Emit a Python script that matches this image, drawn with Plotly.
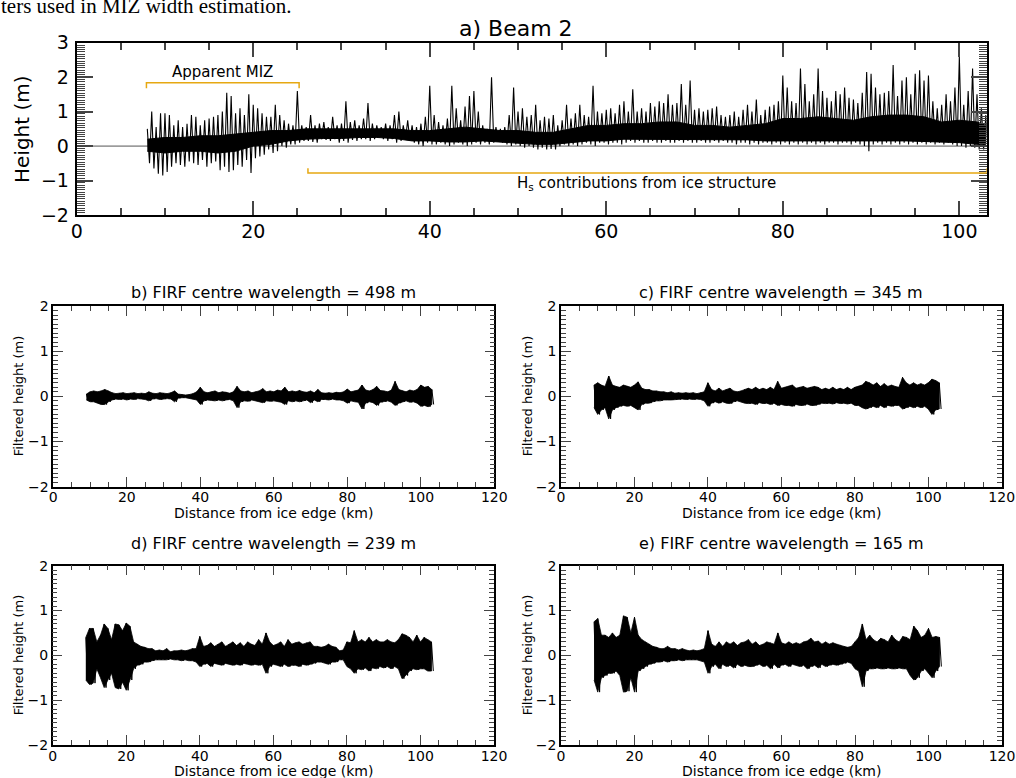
import plotly.graph_objects as go

# ---------------- data ----------------
# Panel a: raw height, Beam 2, max / min every 0.5 km from 8.0 km to 103.0 km
top_start_km = 8.0
top_step_km = 0.5
top_hi = [
    0.5, 1.0, 0.55, 0.95, 0.95, 0.9, 0.6, 0.75, 0.55, 0.65,
    0.9, 0.85, 0.6, 0.75, 0.8, 0.85, 0.9, 1.0, 1.55, 1.45,
    0.95, 1.1, 0.9, 1.5, 1.2, 1.1, 0.95, 0.85, 0.85, 1.2,
    0.9, 0.75, 0.65, 0.6, 1.6, 0.6, 0.55, 0.9, 0.6, 0.65,
    0.7, 0.55, 0.85, 0.6, 0.65, 1.3, 0.7, 0.75, 0.6, 0.8,
    1.25, 0.65, 0.6, 0.55, 0.65, 0.6, 0.9, 1.0, 0.6, 0.75,
    0.6, 0.55, 0.65, 0.85, 1.75, 0.9, 0.7, 0.6, 0.8, 1.75,
    1.1, 0.75, 1.15, 1.45, 1.6, 1.0, 0.6, 0.5, 2.0, 0.55,
    0.5, 0.55, 0.9, 1.7, 1.0, 1.1, 0.85, 0.9, 1.2, 0.75,
    0.85, 0.8, 0.9, 0.6, 0.75, 1.2, 0.8, 0.95, 1.2, 0.9,
    0.85, 1.75, 1.0, 0.95, 1.05, 1.1, 0.95, 1.2, 1.3, 1.0,
    1.65, 1.0, 1.1, 1.0, 1.25, 1.15, 1.3, 1.25, 1.5, 1.2,
    1.25, 1.8, 1.2, 1.9, 1.05, 1.1, 1.0, 1.05, 1.1, 1.15,
    0.9, 0.85, 0.9, 1.0, 0.85, 1.05, 1.2, 1.0, 1.35, 0.9,
    1.05, 1.15, 1.2, 1.3, 2.05, 1.7, 1.3, 1.25, 2.25, 1.8,
    1.3, 1.5, 2.25, 1.6, 1.4, 1.3, 1.6, 1.5, 1.7, 1.4,
    1.35, 1.25, 1.55, 2.15, 2.1, 1.7, 1.5, 1.55, 1.6, 2.35,
    1.45, 1.9, 2.0, 1.5, 2.1, 2.2, 1.9, 2.05, 1.3, 1.1,
    1.2, 1.5, 1.3, 1.7, 2.6, 1.2, 1.6, 2.25, 1.5, 1.1,
    0.9,
]
top_lo = [
    -0.5, -0.65, -0.8, -0.85, -0.75, -0.6, -0.5, -0.55, -0.6, -0.45,
    -0.5, -0.55, -0.4, -0.6, -0.5, -0.45, -0.7, -0.6, -0.75, -0.7,
    -0.55, -0.6, -0.4, -0.78, -0.35, -0.3, -0.25, -0.1, -0.2, -0.15,
    0.0, -0.05, 0.05, 0.05, 0.1, 0.15, 0.15, 0.12, 0.1, 0.2,
    0.18, 0.15, 0.2, 0.1, 0.15, 0.1, 0.18, 0.15, 0.2, 0.2,
    0.15, 0.2, 0.25, 0.2, 0.15, 0.2, 0.1, 0.15, 0.2, 0.15,
    0.1, 0.05, 0.0, 0.1, 0.05, 0.05, 0.1, 0.05, 0.0, 0.05,
    0.1, 0.05, 0.0, 0.05, 0.1, 0.05, 0.1, 0.05, 0.1, 0.15,
    0.1, 0.05, 0.0, 0.05, 0.0, -0.05, 0.0, -0.05, -0.1, -0.05,
    -0.1, -0.08, -0.1, 0.0, 0.05, 0.0, 0.05, 0.0, 0.05, 0.1,
    0.05, 0.0, 0.1, 0.1, 0.05, 0.1, 0.1, 0.05, 0.1, 0.15,
    0.1, 0.15, 0.1, 0.1, 0.15, 0.1, 0.1, 0.15, 0.1, 0.1,
    0.15, 0.1, 0.15, 0.1, 0.1, 0.15, 0.1, 0.1, 0.15, 0.1,
    0.15, 0.1, 0.1, 0.05, 0.1, 0.1, 0.05, 0.1, 0.05, 0.1,
    0.1, 0.05, 0.1, 0.05, 0.1, 0.05, 0.1, 0.05, 0.1, 0.05,
    0.1, 0.05, 0.1, 0.05, 0.1, 0.1, 0.05, 0.1, 0.1, 0.05,
    0.1, 0.05, 0.0, -0.15, 0.05, 0.1, 0.05, 0.1, 0.05, 0.1,
    0.05, 0.1, 0.05, 0.1, 0.05, 0.1, 0.05, 0.1, 0.05, 0.1,
    0.05, 0.1, 0.05, 0.0, 0.0, -0.05, 0.0, -0.05, -0.1, -0.1,
    -0.05,
]
# Panel a: dense (solid black) core of the trace, read every 2 km
core_km = [8, 10, 12, 14, 16, 18, 20, 22, 24, 26, 28, 30, 32, 34, 36, 38, 40,
           42, 44, 46, 48, 50, 52, 54, 56, 58, 60, 62, 64, 66, 68, 70, 72, 74,
           76, 78, 80, 82, 84, 86, 88, 90, 92, 94, 96, 98, 100, 102, 103]
core_top = [0.2, 0.25, 0.25, 0.3, 0.3, 0.35, 0.4, 0.45, 0.45, 0.5, 0.5, 0.5,
            0.5, 0.5, 0.5, 0.45, 0.45, 0.5, 0.55, 0.5, 0.45, 0.45, 0.4, 0.4,
            0.5, 0.6, 0.6, 0.65, 0.65, 0.7, 0.7, 0.6, 0.6, 0.55, 0.6, 0.65,
            0.8, 0.8, 0.85, 0.8, 0.75, 0.85, 0.9, 0.9, 0.85, 0.7, 0.75, 0.7, 0.6]
core_bot = [-0.15, -0.2, -0.15, -0.15, -0.2, -0.15, 0.0, 0.05, 0.15, 0.2, 0.22,
            0.22, 0.25, 0.25, 0.22, 0.15, 0.15, 0.12, 0.12, 0.15, 0.12, 0.08,
            0.05, 0.05, 0.1, 0.15, 0.15, 0.2, 0.2, 0.2, 0.2, 0.2, 0.2, 0.18,
            0.18, 0.15, 0.15, 0.15, 0.15, 0.15, 0.15, 0.15, 0.15, 0.15, 0.15,
            0.12, 0.1, 0.05, 0.05]

# Panels b-e: FIRF filtered height, max / min per 1 km, 9 km .. 103 km
filt_start_km = 9
filt_step_km = 1.0
b_hi = [
    0.05, 0.1, 0.12, 0.1, 0.12, 0.15, 0.12, 0.08, 0.06, 0.07,
    0.08, 0.06, 0.07, 0.08, 0.06, 0.07, 0.06, 0.1, 0.07, 0.06,
    0.08, 0.07, 0.06, 0.08, 0.12, 0.05, 0.04, 0.03, 0.04, 0.06,
    0.1, 0.2, 0.1, 0.08, 0.1, 0.12, 0.08, 0.1, 0.09, 0.07,
    0.1, 0.22, 0.12, 0.1, 0.12, 0.08, 0.1, 0.12, 0.17, 0.1,
    0.12, 0.1, 0.14, 0.12, 0.2, 0.1, 0.12, 0.1, 0.13, 0.1,
    0.09, 0.12, 0.08, 0.15, 0.08, 0.07, 0.08, 0.07, 0.09, 0.08,
    0.1, 0.16, 0.1, 0.12, 0.14, 0.25, 0.14, 0.12, 0.15, 0.22,
    0.13, 0.12, 0.1, 0.14, 0.33, 0.15, 0.12, 0.1, 0.14, 0.12,
    0.15, 0.25, 0.2, 0.22, 0.15,
]
b_lo = [
    -0.08, -0.12, -0.12, -0.15, -0.18, -0.18, -0.12, -0.08, -0.06, -0.07,
    -0.06, -0.08, -0.06, -0.07, -0.05, -0.06, -0.07, -0.1, -0.06, -0.05,
    -0.07, -0.06, -0.05, -0.06, -0.12, -0.04, -0.03, -0.03, -0.04, -0.06,
    -0.08, -0.18, -0.1, -0.08, -0.09, -0.1, -0.08, -0.1, -0.08, -0.07,
    -0.1, -0.25, -0.12, -0.1, -0.11, -0.08, -0.1, -0.12, -0.14, -0.1,
    -0.11, -0.1, -0.12, -0.13, -0.18, -0.1, -0.12, -0.1, -0.12, -0.1,
    -0.08, -0.14, -0.08, -0.12, -0.07, -0.07, -0.08, -0.06, -0.08, -0.08,
    -0.1, -0.15, -0.1, -0.12, -0.13, -0.28, -0.15, -0.12, -0.14, -0.2,
    -0.13, -0.12, -0.1, -0.13, -0.2, -0.15, -0.12, -0.1, -0.13, -0.12,
    -0.15, -0.22, -0.2, -0.23, -0.18,
]
c_hi = [
    0.25, 0.3, 0.25, 0.22, 0.45, 0.25, 0.22, 0.2, 0.25, 0.22,
    0.2, 0.25, 0.32, 0.18, 0.15, 0.15, 0.12, 0.12, 0.1, 0.1,
    0.08, 0.1, 0.07, 0.08, 0.07, 0.08, 0.07, 0.08, 0.06, 0.08,
    0.1, 0.3, 0.15, 0.12, 0.18, 0.12, 0.15, 0.18, 0.12, 0.1,
    0.12, 0.15, 0.18, 0.15, 0.2, 0.15, 0.18, 0.15, 0.2, 0.15,
    0.33, 0.18, 0.2, 0.22, 0.25, 0.18, 0.2, 0.22, 0.18, 0.2,
    0.22, 0.2, 0.15, 0.18, 0.15, 0.2, 0.15, 0.18, 0.15, 0.2,
    0.15, 0.2, 0.22, 0.25, 0.33, 0.3, 0.25, 0.3, 0.22, 0.28,
    0.22, 0.25, 0.22, 0.2, 0.42, 0.3, 0.25, 0.3, 0.25, 0.28,
    0.25, 0.3, 0.38, 0.35, 0.3,
]
c_lo = [
    -0.25, -0.4, -0.3, -0.25, -0.5, -0.3, -0.25, -0.22, -0.2, -0.22,
    -0.2, -0.25, -0.3, -0.18, -0.15, -0.15, -0.12, -0.1, -0.1, -0.08,
    -0.08, -0.08, -0.07, -0.07, -0.06, -0.07, -0.06, -0.07, -0.06, -0.07,
    -0.1, -0.22, -0.15, -0.12, -0.15, -0.12, -0.15, -0.16, -0.12, -0.1,
    -0.12, -0.15, -0.16, -0.15, -0.18, -0.14, -0.16, -0.15, -0.18, -0.15,
    -0.2, -0.18, -0.2, -0.2, -0.22, -0.18, -0.2, -0.2, -0.17, -0.2,
    -0.2, -0.18, -0.15, -0.16, -0.15, -0.17, -0.14, -0.16, -0.15, -0.17,
    -0.15, -0.2, -0.2, -0.25, -0.28, -0.25, -0.22, -0.25, -0.2, -0.25,
    -0.2, -0.22, -0.2, -0.2, -0.28, -0.25, -0.22, -0.25, -0.22, -0.25,
    -0.22, -0.28, -0.4, -0.3, -0.28,
]
d_hi = [
    0.4, 0.6, 0.6, 0.3, 0.45, 0.7, 0.6, 0.35, 0.7, 0.68,
    0.55, 0.72, 0.65, 0.3, 0.25, 0.2, 0.18, 0.15, 0.15, 0.1,
    0.12, 0.1, 0.15, 0.08, 0.1, 0.1, 0.12, 0.1, 0.12, 0.15,
    0.15, 0.42, 0.2, 0.22, 0.28, 0.2, 0.25, 0.3, 0.2, 0.25,
    0.3, 0.22, 0.28, 0.2, 0.3, 0.25, 0.22, 0.35, 0.25, 0.5,
    0.3, 0.22, 0.25, 0.3, 0.2, 0.35, 0.25, 0.28, 0.3, 0.25,
    0.28, 0.3, 0.2, 0.2, 0.18, 0.2, 0.25, 0.2, 0.18, 0.1,
    0.12, 0.3, 0.28, 0.55, 0.3, 0.35, 0.3, 0.4, 0.3, 0.35,
    0.3, 0.3, 0.35, 0.3, 0.28, 0.35, 0.48, 0.45, 0.4, 0.3,
    0.45, 0.3, 0.4, 0.35, 0.3,
]
d_lo = [
    -0.55, -0.65, -0.62, -0.3, -0.5, -0.72, -0.55, -0.4, -0.72, -0.75,
    -0.6, -0.78, -0.55, -0.3, -0.22, -0.2, -0.15, -0.15, -0.12, -0.1,
    -0.1, -0.1, -0.1, -0.08, -0.1, -0.1, -0.12, -0.1, -0.12, -0.12,
    -0.15, -0.25, -0.2, -0.18, -0.25, -0.18, -0.2, -0.22, -0.18, -0.2,
    -0.22, -0.2, -0.22, -0.18, -0.2, -0.22, -0.2, -0.22, -0.2, -0.4,
    -0.25, -0.2, -0.22, -0.25, -0.2, -0.25, -0.22, -0.22, -0.25, -0.2,
    -0.22, -0.2, -0.18, -0.15, -0.15, -0.18, -0.2, -0.15, -0.15, -0.1,
    -0.1, -0.25, -0.3, -0.4, -0.3, -0.32, -0.28, -0.35, -0.28, -0.3,
    -0.25, -0.28, -0.25, -0.3, -0.25, -0.3, -0.52, -0.45, -0.35, -0.3,
    -0.32, -0.3, -0.3, -0.35, -0.35,
]
e_hi = [
    0.75, 0.82, 0.45, 0.45, 0.4, 0.5, 0.4, 0.45, 0.88, 0.85,
    0.5, 0.85, 0.45, 0.35, 0.3, 0.25, 0.2, 0.18, 0.15, 0.15,
    0.2, 0.15, 0.15, 0.12, 0.15, 0.12, 0.1, 0.12, 0.1, 0.12,
    0.15, 0.55, 0.25, 0.2, 0.3, 0.2, 0.3, 0.25, 0.3, 0.22,
    0.28, 0.3, 0.35, 0.25, 0.3, 0.22, 0.25, 0.3, 0.28, 0.25,
    0.5, 0.28, 0.25, 0.3, 0.25, 0.28, 0.25, 0.3, 0.32, 0.38,
    0.3, 0.32, 0.25, 0.3, 0.25, 0.28, 0.25, 0.22, 0.2, 0.18,
    0.2, 0.3, 0.4, 0.7, 0.35, 0.45, 0.35, 0.3, 0.38, 0.35,
    0.3, 0.45, 0.35, 0.3, 0.42, 0.4, 0.35, 0.65, 0.55, 0.4,
    0.45, 0.6, 0.4, 0.42, 0.4,
]
e_lo = [
    -0.55, -0.82, -0.5, -0.45, -0.4, -0.4, -0.35, -0.45, -0.82, -0.8,
    -0.5, -0.82, -0.35, -0.3, -0.25, -0.2, -0.18, -0.15, -0.15, -0.12,
    -0.15, -0.12, -0.12, -0.1, -0.12, -0.1, -0.1, -0.1, -0.1, -0.12,
    -0.15, -0.4, -0.25, -0.2, -0.3, -0.2, -0.25, -0.22, -0.28, -0.2,
    -0.25, -0.22, -0.25, -0.25, -0.22, -0.2, -0.25, -0.22, -0.3, -0.2,
    -0.28, -0.22, -0.2, -0.25, -0.2, -0.22, -0.25, -0.22, -0.3, -0.25,
    -0.22, -0.28, -0.2, -0.25, -0.22, -0.2, -0.22, -0.2, -0.18, -0.15,
    -0.18, -0.3, -0.35, -0.7, -0.35, -0.3, -0.3, -0.28, -0.3, -0.3,
    -0.28, -0.3, -0.3, -0.28, -0.3, -0.3, -0.45, -0.55, -0.5, -0.35,
    -0.3, -0.4, -0.5, -0.35, -0.25,
]

panel_titles = [
    "b) FIRF centre wavelength = 498 m",
    "c) FIRF centre wavelength = 345 m",
    "d) FIRF centre wavelength = 239 m",
    "e) FIRF centre wavelength = 165 m",
]
top_title = "a) Beam 2"
header_text = "ters used in MIZ width estimation."

# annotation brackets (km, m)
miz_x = [7.9, 25.2]
miz_y = [1.84, 1.68]
ice_x = [26.2, 103.1]
ice_y = [-0.78, -0.64]

# ---------------- layout helpers ----------------
W, H = 1016, 778
FONT = "DejaVu Sans"
GOLD = "#E6A812"


def px_x(p):
    return p / W


def px_y(p):
    return 1 - p / H


def zigzag(start, step, hi, lo):
    xs, ys = [], []
    for i, (h, l) in enumerate(zip(hi, lo)):
        d = start + i * step
        xs += [d, d + step / 2]
        ys += [h, l]
    return xs, ys


def band(start, step, hi, lo):
    xs = [start + i * step for i in range(len(hi))]
    return xs + xs[::-1], list(hi) + list(lo)[::-1]


fig = go.Figure()

# panel a: solid core + zigzag trace
fig.add_trace(go.Scatter(x=core_km + core_km[::-1], y=core_top + core_bot[::-1],
                         mode="lines", fill="toself", fillcolor="black",
                         line=dict(color="black", width=1), xaxis="x", yaxis="y",
                         showlegend=False, hoverinfo="skip"))
xs, ys = zigzag(top_start_km, top_step_km, top_hi, top_lo)
fig.add_trace(go.Scatter(x=xs, y=ys, mode="lines", xaxis="x", yaxis="y",
                         line=dict(color="black", width=1.1), showlegend=False,
                         hoverinfo="skip"))

filt = [(b_hi, b_lo), (c_hi, c_lo), (d_hi, d_lo), (e_hi, e_lo)]
for k, (hi, lo) in enumerate(filt):
    bx, by = band(filt_start_km, filt_step_km, hi, lo)
    fig.add_trace(go.Scatter(x=bx, y=by, mode="lines", fill="toself",
                             fillcolor="black", line=dict(color="black", width=0.8),
                             xaxis=f"x{k + 2}", yaxis=f"y{k + 2}",
                             showlegend=False, hoverinfo="skip"))
    xs, ys = zigzag(filt_start_km, filt_step_km, hi, lo)
    fig.add_trace(go.Scatter(x=xs, y=ys, mode="lines",
                             xaxis=f"x{k + 2}", yaxis=f"y{k + 2}",
                             line=dict(color="black", width=1),
                             showlegend=False, hoverinfo="skip"))

layout = dict(
    width=W, height=H, margin=dict(l=0, r=0, t=0, b=0, autoexpand=False),
    paper_bgcolor="white", plot_bgcolor="white",
    font=dict(family=FONT, color="black"),
    showlegend=False,
)

# top axes
layout["xaxis"] = dict(
    domain=[px_x(76.7), px_x(986.7)], anchor="y", range=[0, 103.1],
    tick0=0, dtick=20, ticks="inside", ticklen=14, tickwidth=1.5,
    minor=dict(dtick=5, ticks="inside", ticklen=7, tickwidth=1.5),
    showline=True, linewidth=2, linecolor="black", mirror="allticks",
    showgrid=False, zeroline=False, ticklabelstandoff=-2,
    tickfont=dict(family=FONT, size=19, color="black"),
)
layout["yaxis"] = dict(
    domain=[px_y(215), px_y(42.7)], anchor="x", range=[-2, 3],
    tick0=0, dtick=1, ticks="inside", ticklen=16, tickwidth=1.5,
    minor=dict(tick0=0, dtick=1 / 15, ticks="inside", ticklen=8, tickwidth=1),
    showline=True, linewidth=2, linecolor="black", mirror="allticks",
    showgrid=False, zeroline=False, ticklabelstandoff=2,
    tickfont=dict(family=FONT, size=19, color="black"),
)

# small panels: (left, right, top, bottom) pixels
boxes = [
    (53.3, 494.3, 306, 486.7),
    (561, 1001.7, 306, 486.7),
    (52.7, 494, 565.7, 745),
    (561, 1002, 565.7, 745),
]
for k, (l, r, t, b) in enumerate(boxes):
    n = k + 2
    layout[f"xaxis{n}"] = dict(
        domain=[px_x(l), px_x(r)], anchor=f"y{n}", range=[0, 120],
        tick0=0, dtick=20, ticks="inside", ticklen=10, tickwidth=1.2,
        minor=dict(dtick=5, ticks="inside", ticklen=5, tickwidth=1.2),
        showline=True, linewidth=1.5, linecolor="black", mirror="allticks",
        showgrid=False, zeroline=False, ticklabelstandoff=-3,
        tickfont=dict(family=FONT, size=14, color="black"),
    )
    layout[f"yaxis{n}"] = dict(
        domain=[px_y(b), px_y(t)], anchor=f"x{n}", range=[-2, 2],
        tick0=0, dtick=1, ticks="inside", ticklen=10, tickwidth=1.2,
        minor=dict(tick0=0, dtick=0.1, ticks="inside", ticklen=5, tickwidth=1),
        showline=True, linewidth=1.5, linecolor="black", mirror="allticks",
        showgrid=False, zeroline=False,
        tickfont=dict(family=FONT, size=14, color="black"),
    )

fig.update_layout(**layout)

ann = []
# header text (cut caption line)
ann.append(dict(text=header_text, x=px_x(-1), y=px_y(20), xref="paper", yref="paper",
                xanchor="left", yanchor="bottom", showarrow=False,
                font=dict(family="Liberation Serif", size=21, color="black")))
# top title
ann.append(dict(text=top_title, x=px_x(516), y=px_y(29), xref="paper", yref="paper",
                xanchor="center", yanchor="middle", showarrow=False,
                font=dict(family=FONT, size=22, color="black")))
ann.append(dict(text="Height (m)", x=px_x(22), y=px_y(129), xref="paper", yref="paper",
                xanchor="center", yanchor="middle", textangle=-90, showarrow=False,
                font=dict(family=FONT, size=20, color="black")))
ann.append(dict(text="Apparent MIZ", x=(miz_x[0] + miz_x[1]) / 2, y=2.15, xref="x", yref="y",
                xanchor="center", yanchor="middle", showarrow=False,
                font=dict(family=FONT, size=15, color="black")))
ann.append(dict(text="H<sub>s</sub> contributions from ice structure", x=64.5, y=-1.1,
                xref="x", yref="y", xanchor="center", yanchor="middle", showarrow=False,
                font=dict(family=FONT, size=15, color="black")))

title_y = [292.5, 292.5, 543.5, 543.5]
xlab_y = [513, 513, 771, 771]
ylab_x = [18, 527, 18, 527]
for k, (l, r, t, b) in enumerate(boxes):
    cx = (l + r) / 2
    ann.append(dict(text=panel_titles[k], x=px_x(cx), y=px_y(title_y[k]), xref="paper",
                    yref="paper", xanchor="center", yanchor="middle", showarrow=False,
                    font=dict(family=FONT, size=16, color="black")))
    ann.append(dict(text="Distance from ice edge (km)", x=px_x(cx), y=px_y(xlab_y[k]),
                    xref="paper", yref="paper", xanchor="center", yanchor="middle",
                    showarrow=False, font=dict(family=FONT, size=14, color="black")))
    ann.append(dict(text="Filtered height (m)", x=px_x(ylab_x[k]), y=px_y((t + b) / 2),
                    xref="paper", yref="paper", xanchor="center", yanchor="middle",
                    textangle=-90, showarrow=False,
                    font=dict(family=FONT, size=13, color="black")))

shapes = []
# zero line in panel a
shapes.append(dict(type="line", xref="x domain", yref="y", x0=0, x1=1, y0=0, y1=0,
                   line=dict(color="#555555", width=1), layer="below"))
# Apparent MIZ bracket
shapes.append(dict(type="path", xref="x", yref="y",
                   path=f"M {miz_x[0]},{miz_y[1]} L {miz_x[0]},{miz_y[0]} "
                        f"L {miz_x[1]},{miz_y[0]} L {miz_x[1]},{miz_y[1]}",
                   line=dict(color=GOLD, width=1.5)))
# ice structure bracket
shapes.append(dict(type="path", xref="x", yref="y",
                   path=f"M {ice_x[0]},{ice_y[1]} L {ice_x[0]},{ice_y[0]} "
                        f"L {ice_x[1]},{ice_y[0]} L {ice_x[1]},{ice_y[1]}",
                   line=dict(color=GOLD, width=1.5)))

fig.update_layout(annotations=ann, shapes=shapes)
fig.write_html("out.html",
               post_script="document.body.style.margin='0px';"
                           "document.body.style.overflow='hidden';")
